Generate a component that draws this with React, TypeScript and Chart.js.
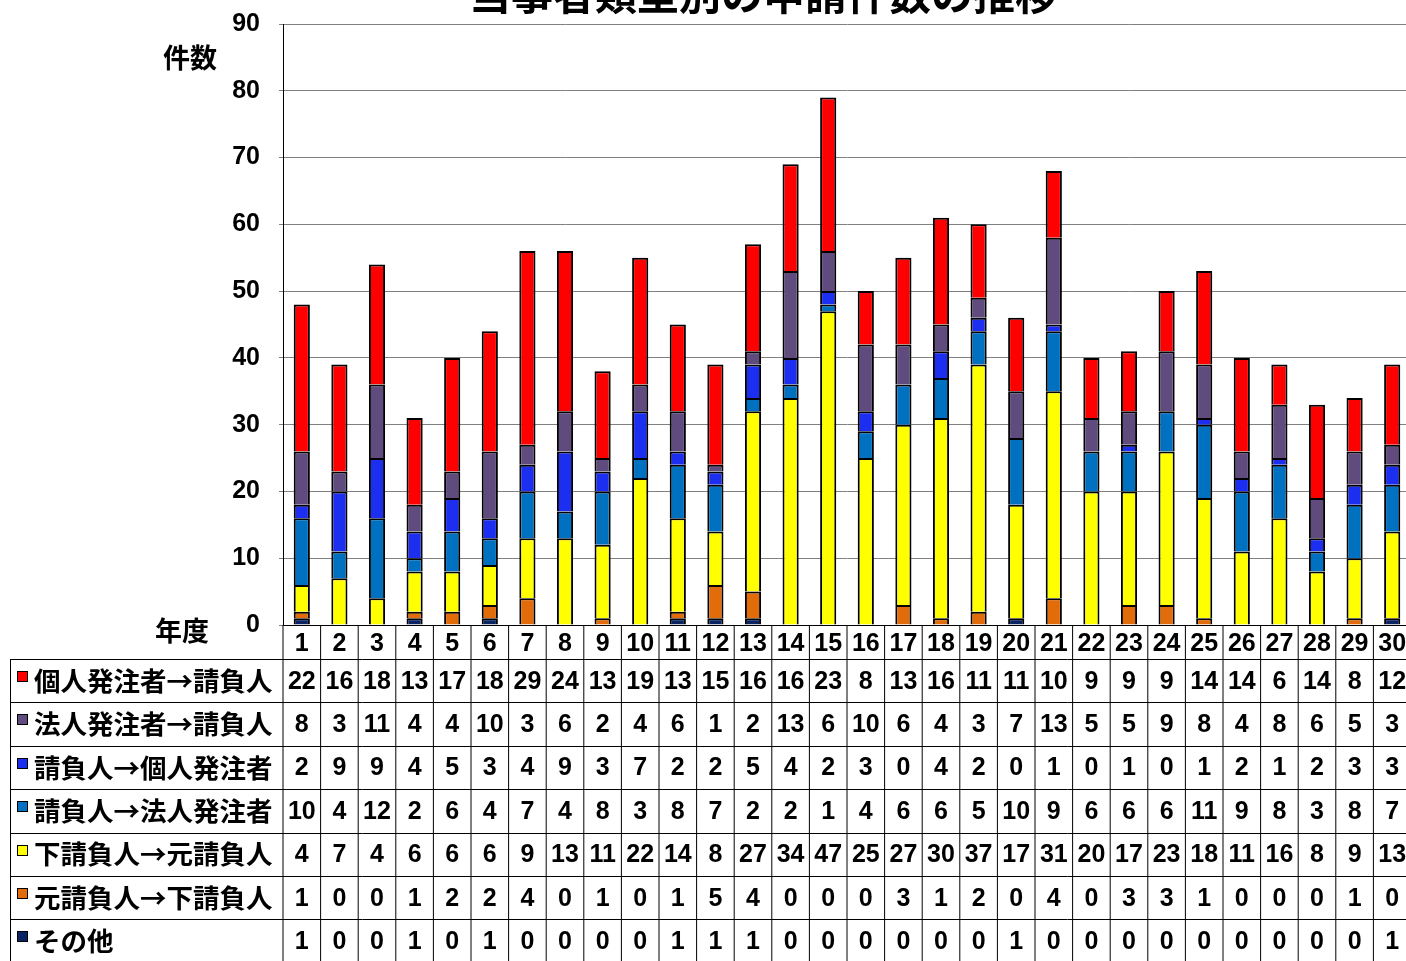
import React, { useEffect, useRef } from "react";
import { Chart, registerables } from "chart.js";

Chart.register(...registerables);

const TITLE = "当事者類型別の申請件数の推移";
const Y_TITLE = "件数";
const X_TITLE = "年度";

const categories = [
  "1", "2", "3", "4", "5", "6", "7", "8", "9", "10",
  "11", "12", "13", "14", "15", "16", "17", "18", "19", "20",
  "21", "22", "23", "24", "25", "26", "27", "28", "29", "30",
];

const seriesNames = [
  "その他",
  "元請負人→下請負人",
  "下請負人→元請負人",
  "請負人→法人発注者",
  "請負人→個人発注者",
  "法人発注者→請負人",
  "個人発注者→請負人",
];

const seriesColors = [
  "#0A2463",
  "#E36C0A",
  "#FFFF00",
  "#0070C0",
  "#1C2EF0",
  "#5F4B7E",
  "#FF0000",
];

const sonota = [1, 0, 0, 1, 0, 1, 0, 0, 0, 0, 1, 1, 1, 0, 0, 0, 0, 0, 0, 1, 0, 0, 0, 0, 0, 0, 0, 0, 0, 1];
const motoToShita = [1, 0, 0, 1, 2, 2, 4, 0, 1, 0, 1, 5, 4, 0, 0, 0, 3, 1, 2, 0, 4, 0, 3, 3, 1, 0, 0, 0, 1, 0];
const shitaToMoto = [4, 7, 4, 6, 6, 6, 9, 13, 11, 22, 14, 8, 27, 34, 47, 25, 27, 30, 37, 17, 31, 20, 17, 23, 18, 11, 16, 8, 9, 13];
const ukeToHojin = [10, 4, 12, 2, 6, 4, 7, 4, 8, 3, 8, 7, 2, 2, 1, 4, 6, 6, 5, 10, 9, 6, 6, 6, 11, 9, 8, 3, 8, 7];
const ukeToKojin = [2, 9, 9, 4, 5, 3, 4, 9, 3, 7, 2, 2, 5, 4, 2, 3, 0, 4, 2, 0, 1, 0, 1, 0, 1, 2, 1, 2, 3, 3];
const hojinToUke = [8, 3, 11, 4, 4, 10, 3, 6, 2, 4, 6, 1, 2, 13, 6, 10, 6, 4, 3, 7, 13, 5, 5, 9, 8, 4, 8, 6, 5, 3];
const kojinToUke = [22, 16, 18, 13, 17, 18, 29, 24, 13, 19, 13, 15, 16, 16, 23, 8, 13, 16, 11, 11, 10, 9, 9, 9, 14, 14, 6, 14, 8, 12];

const seriesValues = [sonota, motoToShita, shitaToMoto, ukeToHojin, ukeToKojin, hojinToUke, kojinToUke];

const yTicks = [0, 10, 20, 30, 40, 50, 60, 70, 80, 90];

const CJK = '"Noto Sans CJK JP", "Noto Sans", sans-serif';
const NUM = '"Liberation Sans", Arial, sans-serif';

const CANVAS_W = 1420;
const CANVAS_H = 961;
const ROW_H = 43.4;

const tablePlugin = {
  id: "tablePlugin",
  afterDraw(chart: any) {
    const ctx = chart.ctx as CanvasRenderingContext2D;
    const area = chart.chartArea;
    const xs = chart.scales.x;
    const n = chart.data.labels.length;
    const colW = (area.right - area.left) / n;
    const rowTop = xs.bottom;
    const bottom = chart.height;
    const datasets = chart.data.datasets.slice().reverse();

    ctx.save();

    // title
    ctx.fillStyle = "#000";
    ctx.font = `bold 42px ${CJK}`;
    ctx.textAlign = "center";
    ctx.textBaseline = "alphabetic";
    ctx.fillText(TITLE, 763, 10);

    // axis titles
    ctx.font = `bold 27px ${CJK}`;
    ctx.textBaseline = "middle";
    ctx.fillText(Y_TITLE, 190, 58);
    ctx.fillText(X_TITLE, 182, 631);

    // grid lines of table
    ctx.strokeStyle = "#000";
    ctx.lineWidth = 1;
    ctx.beginPath();
    for (let i = 0; i <= n; i++) {
      const xb = area.left + i * colW;
      ctx.moveTo(xb, area.bottom);
      ctx.lineTo(xb, bottom);
    }
    for (let r = 0; r < datasets.length; r++) {
      const y = Math.round(rowTop + r * ROW_H) + 0.5;
      ctx.moveTo(10, y);
      ctx.lineTo(chart.width, y);
    }
    ctx.moveTo(10.5, rowTop);
    ctx.lineTo(10.5, bottom);
    ctx.stroke();

    // rows
    datasets.forEach((ds: any, r: number) => {
      const top = rowTop + r * ROW_H;
      const cy = top + ROW_H / 2;
      // legend key
      ctx.fillStyle = ds.backgroundColor;
      ctx.fillRect(17, Math.round(top + 12), 11, 11);
      ctx.strokeStyle = "#000";
      ctx.lineWidth = 1;
      ctx.strokeRect(17.5, Math.round(top + 12) + 0.5, 10, 10);
      // label
      ctx.fillStyle = "#000";
      ctx.font = `bold 26.5px ${CJK}`;
      ctx.textAlign = "left";
      ctx.textBaseline = "middle";
      ctx.fillText(ds.label, 34, cy);
      // values
      ctx.font = `bold 25px ${NUM}`;
      ctx.textAlign = "center";
      ds.data.forEach((v: number, i: number) => {
        const cx = xs.getPixelForValue(i);
        ctx.fillText(String(v), cx, cy + 1);
      });
    });

    ctx.restore();
  },
};

export default function App() {
  const canvasRef = useRef<HTMLCanvasElement | null>(null);

  useEffect(() => {
    const canvas = canvasRef.current;
    if (!canvas) return;
    const chart = new Chart(canvas, {
      type: "bar",
      data: {
        labels: categories,
        datasets: seriesNames.map((name, k) => ({
          label: name,
          data: seriesValues[k],
          backgroundColor: seriesColors[k],
          borderColor: "#000",
          borderWidth: 2,
          borderSkipped: "start",
          barPercentage: 0.43,
          categoryPercentage: 1,
        })),
      },
      options: {
        responsive: false,
        animation: false,
        devicePixelRatio: 1,
        layout: { padding: { left: 0, right: 9, top: 24, bottom: 302 } },
        plugins: {
          legend: { display: false },
          tooltip: { enabled: false },
          title: { display: false },
        },
        scales: {
          x: {
            stacked: true,
            grid: { display: false, drawTicks: false },
            border: { display: true, color: "#000", width: 1 },
            ticks: {
              color: "#000",
              font: { family: NUM, size: 25, weight: "bold" },
              padding: 4,
              maxRotation: 0,
              autoSkip: false,
            },
            afterFit: (s: any) => {
              s.height = 34;
              s.paddingLeft = 0;
              s.paddingRight = 0;
            },
          },
          y: {
            stacked: true,
            min: 0,
            max: 90,
            afterBuildTicks: (s: any) => {
              s.ticks = yTicks.map((v) => ({ value: v }));
            },
            ticks: {
              color: "#000",
              font: { family: NUM, size: 25, weight: "bold" },
              padding: 19,
            },
            grid: { color: "#808080", lineWidth: 1, drawTicks: true, tickLength: 4 },
            border: { display: true, color: "#000", width: 1 },
            afterFit: (s: any) => {
              s.width = 283;
              s.paddingTop = 0;
              s.paddingBottom = 0;
            },
          },
        },
      },
      plugins: [tablePlugin],
    } as any);
    return () => chart.destroy();
  }, []);

  return (
    <div
      style={{
        position: "fixed",
        left: 0,
        top: 0,
        width: 1406,
        height: 961,
        overflow: "hidden",
        background: "#fff",
      }}
    >
      <canvas
        ref={canvasRef}
        width={CANVAS_W}
        height={CANVAS_H}
        style={{ width: CANVAS_W, height: CANVAS_H, display: "block" }}
      />
    </div>
  );
}
